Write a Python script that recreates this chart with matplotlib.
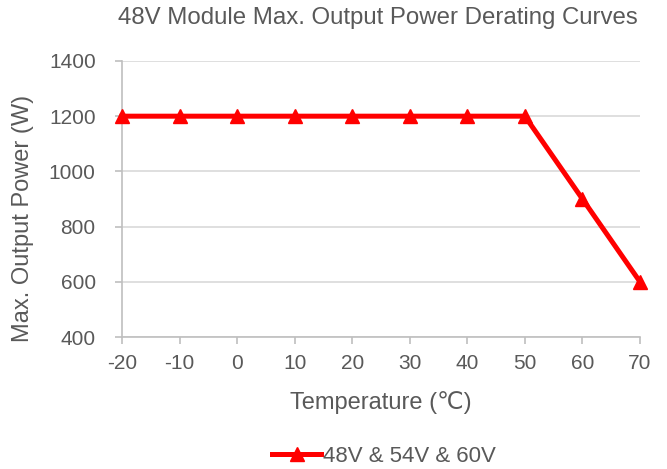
import matplotlib
matplotlib.use("Agg")
import matplotlib.pyplot as plt

plt.rcParams['font.family'] = ['Liberation Sans', 'DejaVu Sans']
plt.rcParams['axes.unicode_minus'] = False

temperature = [-20, -10, 0, 10, 20, 30, 40, 50, 60, 70]
power = [1200, 1200, 1200, 1200, 1200, 1200, 1200, 1200, 900, 600]
series_name = '48V & 54V & 60V'
yticks = [400, 600, 800, 1000, 1200, 1400]

TXT = '#595959'
AX = '#BFBFBF'
GRID = '#D9D9D9'

fig = plt.figure(figsize=(6.67, 4.69), dpi=100)
ax = fig.add_axes([0.183, 0.2814, 0.7765, 0.5886])

ax.plot(temperature, power, color='#FF0000', linewidth=3.6, marker='^',
        markersize=10, label=series_name, clip_on=False, zorder=3)

ax.set_xlim(-20, 70)
ax.set_ylim(400, 1400)
ax.set_xticks(temperature)
ax.set_yticks(yticks)
ax.grid(axis='y', color=GRID, linewidth=1.2)
ax.set_axisbelow(True)

for s in ['top', 'right']:
    ax.spines[s].set_visible(False)
for s in ['left', 'bottom']:
    ax.spines[s].set_color(AX)
    ax.spines[s].set_linewidth(1.2)
ax.tick_params(colors=AX, labelcolor=TXT, labelsize=15, length=5, width=1.2)
ax.tick_params(axis='x', pad=7)
ax.tick_params(axis='y', pad=14)

# titles placed in figure coords
fig.text(0.567, 0.9616, '48V Module Max. Output Power Derating Curves',
         fontsize=17.3, color=TXT, ha='center', va='center')
fig.text(0.571, 0.1407, 'Temperature (\u2103)', fontsize=17, color=TXT,
         ha='center', va='center')
fig.text(0.034, 0.535, 'Max. Output Power (W)', fontsize=17, color=TXT,
         ha='center', va='center', rotation=90)

leg = fig.legend(loc='center', bbox_to_anchor=(0.576, 0.027), frameon=False,
                 fontsize=16, handlelength=2.2, handletextpad=0.1)
for t in leg.get_texts():
    t.set_color(TXT)

fig.savefig('out.png', dpi=100)
